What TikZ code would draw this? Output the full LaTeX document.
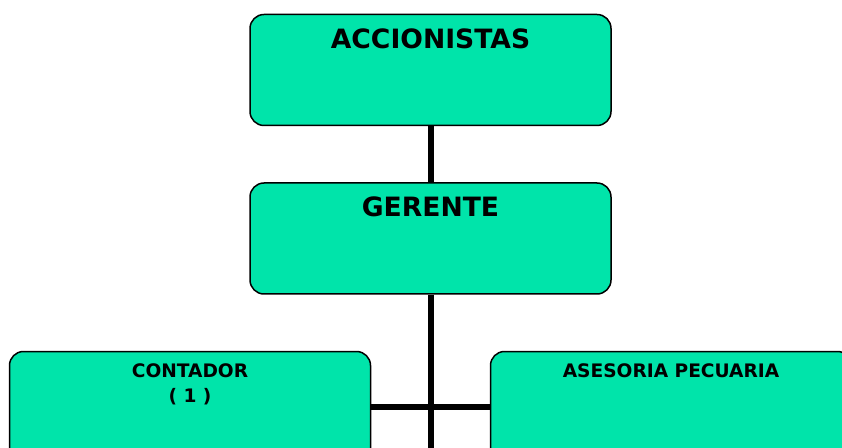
\documentclass[tikz,border=0pt]{standalone}
\usepackage{fontspec}
\setmainfont{DejaVu Sans}
\usepackage{xcolor}
\usetikzlibrary{positioning}
\definecolor{orggreen}{RGB}{0,228,170}
\tikzset{
  orgbox/.style={draw=black, line width=1.5pt, fill=orggreen,
                 rounded corners=14pt, minimum width=361pt,
                 minimum height=111pt, inner sep=0pt},
  bigtitle/.style={below=14.5pt, inner sep=0pt,
                   font=\fontsize{26.6}{30}\selectfont\bfseries},
  smalltitle/.style={below=12.5pt, inner sep=0pt, align=center,
                     font=\fontsize{18.6}{25}\selectfont\bfseries},
  orgline/.style={line width=6pt}
}

\begin{document}
\begin{tikzpicture}[x=1pt, y=1pt]
\useasboundingbox (0,0) rectangle (842,447);
\clip (0,0) rectangle (842,447);
%
\node[orgbox, label={[bigtitle]north:ACCIONISTAS}] (accionistas) at (430.5,377) {};
\node[orgbox, label={[bigtitle]north:GERENTE}, below=56pt of accionistas] (gerente) {};
\node[orgbox, label={[smalltitle]north:CONTADOR\\( 1 )}, below=56pt of gerente, xshift=-240.5pt] (contador) {};
\node[orgbox, label={[smalltitle]north:ASESORIA PECUARIA}, below=56pt of gerente, xshift=240.5pt] (asesoria) {};
\coordinate (fin) at (gerente.south |- 0,-10);
%
\draw[orgline] (accionistas.south) -- (gerente.north);
\draw[orgline] (gerente.south) -- (fin);
\draw[orgline] (contador.east) -- (asesoria.west);
%
\end{tikzpicture}
\end{document}
